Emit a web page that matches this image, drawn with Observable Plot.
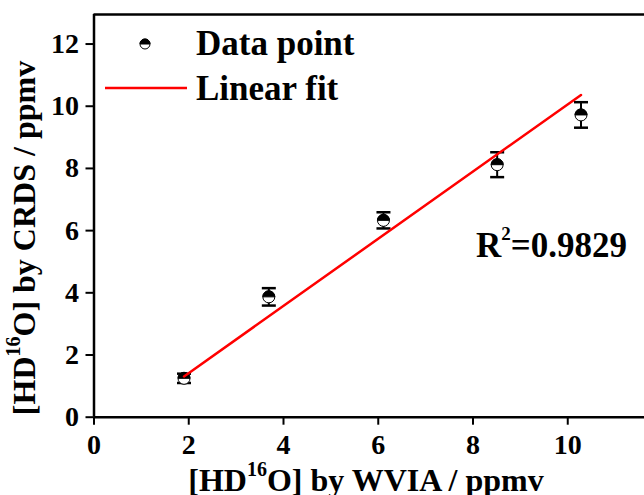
<!DOCTYPE html>
<html>
<head>
<meta charset="utf-8">
<script src="https://cdn.jsdelivr.net/npm/d3@7"></script>
<script src="https://cdn.jsdelivr.net/npm/@observablehq/plot@0.6"></script>
<style>
  html, body { margin: 0; padding: 0; background: #fff; overflow: hidden; }
  #chart svg { display: block; }
</style>
</head>
<body>
<div id="chart"></div>
<script>
// HD16O concentrations: WVIA (x) against CRDS (y)
const wviaValues = [1.9, 3.69, 6.11, 8.51, 10.28];
const crdsValues = [1.25, 3.87, 6.33, 8.12, 9.72];
const crdsErrors = [0.15, 0.28, 0.26, 0.40, 0.41];

// Linear fit parameters and goodness of fit
const fitSlope = 1.08;
const fitIntercept = -0.74;
const rSquared = "0.9829";

const xTicks = [0, 2, 4, 6, 8, 10];
const yTicks = [0, 2, 4, 6, 8, 10, 12];
const xDomain = [0, 11.62];
const yDomain = [0, 12.95];

const points = wviaValues.map((x, i) => ({
  x,
  y: crdsValues[i],
  lo: crdsValues[i] - crdsErrors[i],
  hi: crdsValues[i] + crdsErrors[i]
}));
const fit = d3.extent(wviaValues).map(x => ({ x, y: fitSlope * x + fitIntercept }));

// upper half of a circle, for the half-filled markers
const topHalf = {
  draw(ctx, size) {
    const r = Math.sqrt(size / Math.PI);
    ctx.moveTo(r, 0);
    ctx.arc(0, 0, r, 0, Math.PI, true);
    ctx.closePath();
  }
};
// horizontal error-bar cap
const cap = {
  draw(ctx, size) {
    const r = Math.sqrt(size / Math.PI);
    ctx.moveTo(-r, 0);
    ctx.lineTo(r, 0);
  }
};

const FONT = "'Liberation Serif', 'Times New Roman', serif";

const svg = Plot.plot({
  width: 644,
  height: 495,
  marginLeft: 93.5,
  marginRight: 0,
  marginTop: 14,
  marginBottom: 78.3,
  style: { fontFamily: FONT, fontWeight: "bold", fontSize: "27px", color: "#000", background: "#fff" },
  x: { domain: xDomain },
  y: { domain: yDomain },
  marks: [
    Plot.ruleX(points, { x: "x", y1: "lo", y2: "hi", stroke: "#000", strokeWidth: 2 }),
    Plot.dot(points, { x: "x", y: "hi", r: 7, symbol: cap, stroke: "#000", strokeWidth: 2.5, fill: "none" }),
    Plot.dot(points, { x: "x", y: "lo", r: 7, symbol: cap, stroke: "#000", strokeWidth: 2.5, fill: "none" }),
    Plot.dot(points, { x: "x", y: "y", r: 6, fill: "#fff", stroke: "#000", strokeWidth: 1 }),
    Plot.dot(points, { x: "x", y: "y", r: 6, symbol: topHalf, fill: "#000", stroke: "#000", strokeWidth: 1 }),
    Plot.line(fit, { x: "x", y: "y", stroke: "#ff0000", strokeWidth: 2.5 }),
    Plot.axisX({ ticks: xTicks, tickSize: 8, tickPadding: 9, strokeWidth: 2, label: null, fontSize: 28 }),
    Plot.axisY({ ticks: yTicks, tickSize: 8, tickPadding: 7, strokeWidth: 2, label: null, fontSize: 28 }),
    Plot.ruleX([xDomain[0]], { stroke: "#000", strokeWidth: 2.5 }),
    Plot.ruleY([yDomain[0]], { stroke: "#000", strokeWidth: 2.5 }),
    Plot.ruleY([yDomain[1]], { stroke: "#000", strokeWidth: 2.5 })
  ]
});

document.getElementById("chart").appendChild(svg);

const root = d3.select(svg);

// text with a superscript part: [before, sup, after]
function richText(g, parts, size, supSize, raise, anchor) {
  const t = g.append("text")
    .attr("font-family", FONT)
    .attr("font-weight", "bold")
    .attr("font-size", size)
    .attr("text-anchor", anchor)
    .attr("fill", "#000");
  t.append("tspan").text(parts[0]);
  t.append("tspan").attr("font-size", supSize).attr("dy", -raise).text(parts[1]);
  t.append("tspan").attr("font-size", size).attr("dy", raise).text(parts[2]);
  return t;
}

// axis titles
richText(root.append("g").attr("transform", "translate(366,491)"),
  ["[HD", "16", "O] by WVIA / ppmv"], 32, 20, 15, "middle");
richText(root.append("g").attr("transform", "translate(35,238) rotate(-90)"),
  ["[HD", "16", "O] by CRDS / ppmv"], 32, 20, 15, "middle");

// coefficient of determination
richText(root.append("g").attr("transform", "translate(476,257)"),
  ["R", "2", "=" + rSquared], 35, 19, 17, "start");

// legend
const legend = root.append("g").attr("text-anchor", "start");
const lm = legend.append("g").attr("transform", "translate(145,44)");
lm.append("circle").attr("r", 5).attr("fill", "#fff").attr("stroke", "#000").attr("stroke-width", 1);
lm.append("path").attr("d", "M5,0A5,5 0 0,0 -5,0Z").attr("fill", "#000").attr("stroke", "#000").attr("stroke-width", 1);
legend.append("line").attr("x1", 105).attr("x2", 187).attr("y1", 88).attr("y2", 88)
  .attr("stroke", "#ff0000").attr("stroke-width", 2.5);
legend.append("text").attr("x", 196).attr("y", 55).attr("text-anchor", "start")
  .attr("font-family", FONT).attr("font-weight", "bold").attr("font-size", 35).text("Data point");
legend.append("text").attr("x", 196).attr("y", 100).attr("text-anchor", "start")
  .attr("font-family", FONT).attr("font-weight", "bold").attr("font-size", 35).text("Linear fit");
</script>
</body>
</html>
